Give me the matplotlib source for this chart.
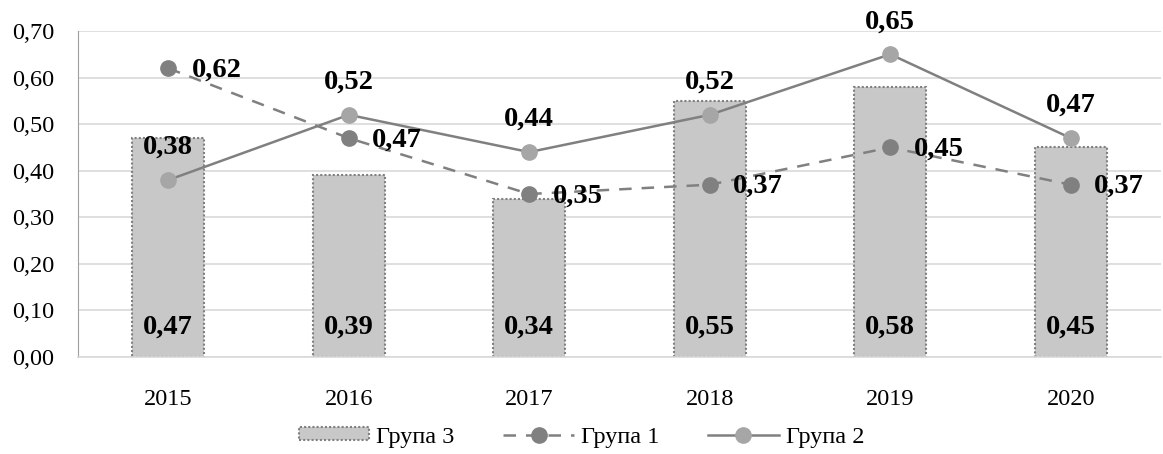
import matplotlib.pyplot as plt
import numpy as np

years = ['2015', '2016', '2017', '2018', '2019', '2020']
grupa3 = [0.47, 0.39, 0.34, 0.55, 0.58, 0.45]
grupa1 = [0.62, 0.47, 0.35, 0.37, 0.45, 0.37]
grupa2 = [0.38, 0.52, 0.44, 0.52, 0.65, 0.47]

plt.rcParams['font.family'] = ['Liberation Serif', 'DejaVu Serif']

def fmt(v):
    return f'{v:.2f}'.replace('.', ',')

fig = plt.figure(figsize=(11.63, 4.54), dpi=100)
ax = fig.add_axes([78 / 1163, 1 - 357 / 454, (1161 - 78) / 1163, (357 - 31) / 454])

x = np.arange(len(years))

# bars with dotted outline
bars = ax.bar(x, grupa3, width=0.4, color='#c8c8c8', edgecolor='#808080',
              linestyle=(0, (1, 1)), linewidth=1.5, label='Група 3', zorder=2)

l1, = ax.plot(x, grupa1, color='#808080', linestyle=(0, (5, 4)), linewidth=1.8,
              marker='o', markersize=11, markerfacecolor='#808080',
              markeredgecolor='#808080', label='Група 1', zorder=3)
l2, = ax.plot(x, grupa2, color='#808080', linestyle='-', linewidth=1.8,
              marker='o', markersize=11, markerfacecolor='#a6a6a6',
              markeredgecolor='#a6a6a6', label='Група 2', zorder=3)

lab = dict(fontsize=20.5, fontweight='bold', color='black', zorder=5)
for xi, v in zip(x, grupa3):
    ax.text(xi, 0.064, fmt(v), ha='center', va='center', **lab)
for xi, v in zip(x, grupa1):
    ax.text(xi + 0.13, v - 0.004, fmt(v), ha='left', va='center', **lab)
for xi, v in zip(x, grupa2):
    ax.text(xi, v + 0.07, fmt(v), ha='center', va='center', **lab)

ax.set_xlim(-0.5, len(years) - 0.5)
ax.set_ylim(0, 0.70)
ax.set_yticks(np.arange(0, 0.71, 0.1))
ax.set_yticklabels([fmt(t) for t in np.arange(0, 0.71, 0.1)], fontsize=17.5)
ax.set_xticks(x)
ax.set_xticklabels(years, fontsize=17.5)
ax.tick_params(axis='y', length=0, pad=17)
ax.tick_params(axis='x', length=0, pad=23)

ax.grid(axis='y', color='#d9d9d9', linewidth=1.2, zorder=0)
ax.set_axisbelow(True)
for s in ['top', 'right']:
    ax.spines[s].set_visible(False)
ax.spines['left'].set_color('#a0a0a0')
ax.spines['bottom'].set_color('#d9d9d9')
ax.spines['bottom'].set_linewidth(1.2)

fig.legend([bars, l1, l2], ['Група 3', 'Група 1', 'Група 2'],
           loc='center', bbox_to_anchor=(0.5, 1 - 437 / 454), ncol=3, frameon=False,
           fontsize=17.5, handlelength=2.9, columnspacing=2.0, handletextpad=0.3,
           handleheight=0.45)

fig.savefig('out.png', dpi=100)
